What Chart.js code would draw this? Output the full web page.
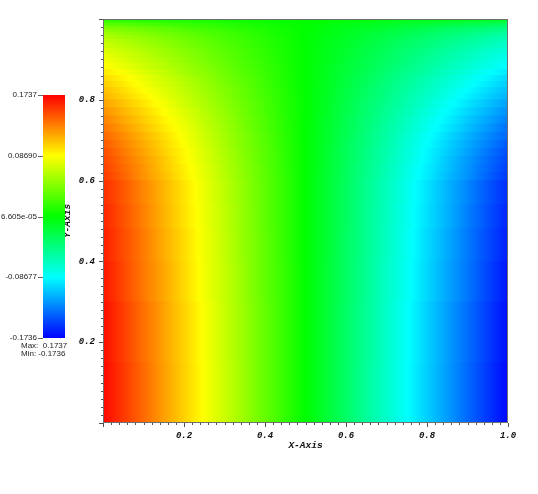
<!DOCTYPE html>
<html>
<head>
<meta charset="utf-8">
<script src="https://cdn.jsdelivr.net/npm/chart.js@4.4.0/dist/chart.umd.min.js"></script>
<style>
    html, body { margin: 0; padding: 0; background: #ffffff; }
    canvas { display: block; }
</style>
</head>
<body>
<canvas id="chart" width="538" height="494"></canvas>
<script>
// grid nodes along x, band edges along y (data units)
const xNodes = [0, 0.05, 0.1, 0.15, 0.2, 0.25, 0.3, 0.35, 0.4, 0.45, 0.5, 0.55, 0.6, 0.65, 0.7, 0.75, 0.8, 0.85, 0.9, 0.95, 1.0];
const yEdges = [0, 0.15, 0.3, 0.4, 0.48, 0.54, 0.6, 0.62, 0.64, 0.66, 0.68, 0.7, 0.72, 0.74, 0.76, 0.78, 0.8,
    0.815, 0.83, 0.845, 0.86, 0.875, 0.89, 0.9025, 0.915, 0.9275, 0.94, 0.95, 0.96, 0.9675, 0.975, 0.9825, 0.99, 0.995, 1.0];

// field values at the x nodes, one array per y band, bottom band first
const row01 = [0.172, 0.155, 0.138, 0.120, 0.103, 0.086, 0.069, 0.052, 0.034, 0.017, 0, -0.017, -0.034, -0.052, -0.069, -0.086, -0.103, -0.120, -0.138, -0.155, -0.172];
const row02 = [0.170, 0.153, 0.136, 0.119, 0.102, 0.085, 0.068, 0.051, 0.034, 0.017, 0, -0.017, -0.034, -0.051, -0.068, -0.085, -0.102, -0.119, -0.136, -0.153, -0.170];
const row03 = [0.167, 0.150, 0.133, 0.117, 0.100, 0.083, 0.067, 0.050, 0.033, 0.017, 0, -0.017, -0.033, -0.050, -0.067, -0.083, -0.100, -0.117, -0.133, -0.150, -0.167];
const row04 = [0.164, 0.148, 0.132, 0.115, 0.099, 0.082, 0.066, 0.049, 0.033, 0.016, 0, -0.016, -0.033, -0.049, -0.066, -0.082, -0.099, -0.115, -0.132, -0.148, -0.164];
const row05 = [0.162, 0.146, 0.130, 0.113, 0.097, 0.081, 0.065, 0.049, 0.032, 0.016, 0, -0.016, -0.032, -0.049, -0.065, -0.081, -0.097, -0.113, -0.130, -0.146, -0.162];
const row06 = [0.159, 0.144, 0.128, 0.112, 0.096, 0.080, 0.064, 0.048, 0.032, 0.016, 0, -0.016, -0.032, -0.048, -0.064, -0.080, -0.096, -0.112, -0.128, -0.144, -0.159];
const row07 = [0.155, 0.140, 0.124, 0.109, 0.093, 0.078, 0.062, 0.047, 0.031, 0.016, 0, -0.016, -0.031, -0.047, -0.062, -0.078, -0.093, -0.109, -0.124, -0.140, -0.155];
const row08 = [0.153, 0.138, 0.123, 0.107, 0.092, 0.077, 0.061, 0.046, 0.031, 0.015, 0, -0.015, -0.031, -0.046, -0.061, -0.077, -0.092, -0.107, -0.123, -0.138, -0.153];
const row09 = [0.151, 0.136, 0.121, 0.106, 0.090, 0.075, 0.060, 0.045, 0.030, 0.015, 0, -0.015, -0.030, -0.045, -0.060, -0.075, -0.090, -0.106, -0.121, -0.136, -0.151];
const row10 = [0.148, 0.133, 0.118, 0.103, 0.089, 0.074, 0.059, 0.044, 0.030, 0.015, 0, -0.015, -0.030, -0.044, -0.059, -0.074, -0.089, -0.103, -0.118, -0.133, -0.148];
const row11 = [0.144, 0.129, 0.115, 0.101, 0.086, 0.072, 0.057, 0.043, 0.029, 0.014, 0, -0.014, -0.029, -0.043, -0.057, -0.072, -0.086, -0.101, -0.115, -0.129, -0.144];
const row12 = [0.139, 0.126, 0.112, 0.098, 0.084, 0.070, 0.056, 0.042, 0.028, 0.014, 0, -0.014, -0.028, -0.042, -0.056, -0.070, -0.084, -0.098, -0.112, -0.126, -0.139];
const row13 = [0.135, 0.121, 0.108, 0.094, 0.081, 0.067, 0.054, 0.040, 0.027, 0.013, 0, -0.013, -0.027, -0.040, -0.054, -0.067, -0.081, -0.094, -0.108, -0.121, -0.135];
const row14 = [0.130, 0.117, 0.104, 0.091, 0.078, 0.065, 0.052, 0.039, 0.026, 0.013, 0, -0.013, -0.026, -0.039, -0.052, -0.065, -0.078, -0.091, -0.104, -0.117, -0.130];
const row15 = [0.125, 0.112, 0.100, 0.087, 0.075, 0.062, 0.050, 0.037, 0.025, 0.012, 0, -0.012, -0.025, -0.037, -0.050, -0.062, -0.075, -0.087, -0.100, -0.112, -0.125];
const row16 = [0.119, 0.107, 0.095, 0.083, 0.071, 0.059, 0.047, 0.036, 0.024, 0.012, 0, -0.012, -0.024, -0.036, -0.047, -0.059, -0.071, -0.083, -0.095, -0.107, -0.119];
const row17 = [0.113, 0.102, 0.091, 0.079, 0.068, 0.057, 0.045, 0.034, 0.023, 0.011, 0, -0.011, -0.023, -0.034, -0.045, -0.057, -0.068, -0.079, -0.091, -0.102, -0.113];
const row18 = [0.109, 0.098, 0.087, 0.076, 0.065, 0.054, 0.044, 0.033, 0.022, 0.011, 0, -0.011, -0.022, -0.033, -0.044, -0.054, -0.065, -0.076, -0.087, -0.098, -0.109];
const row19 = [0.104, 0.094, 0.083, 0.073, 0.063, 0.052, 0.042, 0.031, 0.021, 0.010, 0, -0.010, -0.021, -0.031, -0.042, -0.052, -0.063, -0.073, -0.083, -0.094, -0.104];
const row20 = [0.100, 0.090, 0.080, 0.070, 0.060, 0.050, 0.040, 0.030, 0.020, 0.010, 0, -0.010, -0.020, -0.030, -0.040, -0.050, -0.060, -0.070, -0.080, -0.090, -0.100];
const row21 = [0.094, 0.085, 0.075, 0.066, 0.056, 0.047, 0.038, 0.028, 0.019, 0.009, 0, -0.009, -0.019, -0.028, -0.038, -0.047, -0.056, -0.066, -0.075, -0.085, -0.094];
const row22 = [0.088, 0.079, 0.070, 0.062, 0.053, 0.044, 0.035, 0.026, 0.018, 0.009, 0, -0.009, -0.018, -0.026, -0.035, -0.044, -0.053, -0.062, -0.070, -0.079, -0.088];
const row23 = [0.084, 0.075, 0.067, 0.059, 0.050, 0.042, 0.033, 0.025, 0.017, 0.008, 0, -0.008, -0.017, -0.025, -0.033, -0.042, -0.050, -0.059, -0.067, -0.075, -0.084];
const row24 = [0.080, 0.072, 0.064, 0.056, 0.048, 0.040, 0.032, 0.024, 0.016, 0.008, 0, -0.008, -0.016, -0.024, -0.032, -0.040, -0.048, -0.056, -0.064, -0.072, -0.080];
const row25 = [0.075, 0.068, 0.060, 0.053, 0.045, 0.038, 0.030, 0.023, 0.015, 0.008, 0, -0.008, -0.015, -0.023, -0.030, -0.038, -0.045, -0.053, -0.060, -0.068, -0.075];
const row26 = [0.070, 0.063, 0.056, 0.049, 0.042, 0.035, 0.028, 0.021, 0.014, 0.007, 0, -0.007, -0.014, -0.021, -0.028, -0.035, -0.042, -0.049, -0.056, -0.063, -0.070];
const row27 = [0.065, 0.059, 0.052, 0.046, 0.039, 0.033, 0.026, 0.020, 0.013, 0.007, 0, -0.007, -0.013, -0.020, -0.026, -0.033, -0.039, -0.046, -0.052, -0.059, -0.065];
const row28 = [0.060, 0.054, 0.048, 0.042, 0.036, 0.030, 0.024, 0.018, 0.012, 0.006, 0, -0.006, -0.012, -0.018, -0.024, -0.030, -0.036, -0.042, -0.048, -0.054, -0.060];
const row29 = [0.054, 0.048, 0.043, 0.038, 0.032, 0.027, 0.022, 0.016, 0.011, 0.005, 0, -0.005, -0.011, -0.016, -0.022, -0.027, -0.032, -0.038, -0.043, -0.048, -0.054];
const row30 = [0.048, 0.043, 0.039, 0.034, 0.029, 0.024, 0.019, 0.014, 0.010, 0.005, 0, -0.005, -0.010, -0.014, -0.019, -0.024, -0.029, -0.034, -0.039, -0.043, -0.048];
const row31 = [0.041, 0.037, 0.033, 0.029, 0.024, 0.020, 0.016, 0.012, 0.008, 0.004, 0, -0.004, -0.008, -0.012, -0.016, -0.020, -0.024, -0.029, -0.033, -0.037, -0.041];
const row32 = [0.030, 0.027, 0.024, 0.021, 0.018, 0.015, 0.012, 0.009, 0.006, 0.003, 0, -0.003, -0.006, -0.009, -0.012, -0.015, -0.018, -0.021, -0.024, -0.027, -0.030];
const row33 = [0.019, 0.017, 0.015, 0.013, 0.011, 0.010, 0.008, 0.006, 0.004, 0.002, 0, -0.002, -0.004, -0.006, -0.008, -0.010, -0.011, -0.013, -0.015, -0.017, -0.019];
const row34 = [0.009, 0.008, 0.007, 0.006, 0.005, 0.004, 0.003, 0.003, 0.002, 0.001, 0, -0.001, -0.002, -0.003, -0.003, -0.004, -0.005, -0.006, -0.007, -0.008, -0.009];

const gridRows = [row01, row02, row03, row04, row05, row06, row07, row08, row09, row10,
    row11, row12, row13, row14, row15, row16, row17, row18, row19, row20,
    row21, row22, row23, row24, row25, row26, row27, row28, row29, row30,
    row31, row32, row33, row34];

const valueMin = -0.1736;
const valueMax = 0.1737;
const xTickLabels = ["0.2", "0.4", "0.6", "0.8", "1.0"];
const yTickLabels = ["0.2", "0.4", "0.6", "0.8"];
const legendTickLabels = ["0.1737", "0.08690", "6.605e-05", "-0.08677", "-0.1736"];
const legendMaxLabel = "Max:  0.1737";
const legendMinLabel = "Min: -0.1736";

// hot colour table: blue, cyan, green, yellow, red
const colorStops = [
    [0, 0, 0, 255],
    [0.25, 0, 255, 255],
    [0.5, 0, 255, 0],
    [0.75, 255, 255, 0],
    [1, 255, 0, 0],
];

function normalize(value) {
    const t = (value - valueMin) / (valueMax - valueMin);
    return Math.min(1, Math.max(0, t));
}

function colorAt(t) {
    for (let i = 1; i < colorStops.length; i++) {
        const a = colorStops[i - 1];
        const b = colorStops[i];
        if (t <= b[0]) {
            const f = (t - a[0]) / (b[0] - a[0]);
            const r = Math.round(a[1] + (b[1] - a[1]) * f);
            const g = Math.round(a[2] + (b[2] - a[2]) * f);
            const bl = Math.round(a[3] + (b[3] - a[3]) * f);
            return `rgb(${r},${g},${bl})`;
        }
    }
    return "rgb(255,0,0)";
}

// smooth shading of one cell between the values at its two x nodes
function cellFill(context, row) {
    const i = context.dataIndex;
    if (context.type !== "data" || i === undefined) {
        return colorAt(0.5);
    }
    const t0 = normalize(row[i]);
    const t1 = normalize(row[i + 1]);
    const xs = context.chart.scales.x;
    const p0 = xs ? xs.getPixelForValue(xNodes[i]) : NaN;
    const p1 = xs ? xs.getPixelForValue(xNodes[i + 1]) : NaN;
    if (!Number.isFinite(p0) || !Number.isFinite(p1) || p0 === p1) {
        return colorAt((t0 + t1) / 2);
    }
    const grad = context.chart.ctx.createLinearGradient(p0, 0, p1, 0);
    const stops = [[0, t0], [1, t1]];
    colorStops.forEach((s) => {
        const b = s[0];
        if (b > Math.min(t0, t1) && b < Math.max(t0, t1)) {
            stops.push([(b - t0) / (t1 - t0), b]);
        }
    });
    stops.sort((a, b) => a[0] - b[0]);
    stops.forEach((s) => {
        grad.addColorStop(s[0], colorAt(s[1]));
    });
    return grad;
}

function tickLabel(value, labels) {
    const text = value.toFixed(1);
    return labels.includes(text) ? text : "";
}

const tickFont = { family: '"Liberation Mono", "DejaVu Sans Mono", monospace', size: 9, weight: "bold", style: "italic" };
const titleFont = { family: '"Liberation Mono", "DejaVu Sans Mono", monospace', size: 9.5, weight: "bold", style: "italic" };

const datasets = gridRows.map((row, r) => {
    return {
        data: row.slice(1).map((v, i) => {
            return { x: (xNodes[i] + xNodes[i + 1]) / 2, y: [yEdges[r], yEdges[r + 1]] };
        }),
        backgroundColor: (context) => cellFill(context, row),
    };
});

// frame, minor/major ticks and the colour legend
const decorations = {
    id: "decorations",
    afterDraw(chart) {
        const ctx = chart.ctx;
        const area = chart.chartArea;
        const xs = chart.scales.x;
        const ys = chart.scales.y;

        ctx.save();
        ctx.strokeStyle = "#707070";
        ctx.lineWidth = 1;
        ctx.strokeRect(area.left + 0.5, area.top + 0.5, area.right - area.left - 1, area.bottom - area.top - 1);

        ctx.strokeStyle = "#505050";
        ctx.beginPath();
        for (let i = 0; i <= 50; i++) {
            const len = i % 10 === 0 ? 4 : 2;
            const px = Math.round(xs.getPixelForValue(i / 50)) + 0.5;
            ctx.moveTo(px, area.bottom);
            ctx.lineTo(px, area.bottom + len);
            const py = Math.round(ys.getPixelForValue(i / 50)) + 0.5;
            ctx.moveTo(area.left, py);
            ctx.lineTo(area.left - len, py);
        }
        ctx.stroke();

        // colour legend
        const barLeft = 43, barRight = 65, barTop = 95, barBottom = 338;
        const grad = ctx.createLinearGradient(0, barBottom, 0, barTop);
        colorStops.forEach((s) => {
            grad.addColorStop(s[0], `rgb(${s[1]},${s[2]},${s[3]})`);
        });
        ctx.fillStyle = grad;
        ctx.fillRect(barLeft, barTop, barRight - barLeft, barBottom - barTop);

        ctx.font = '8px "Liberation Sans", Arial, sans-serif';
        ctx.fillStyle = "#222222";
        ctx.strokeStyle = "#666666";
        ctx.textAlign = "right";
        ctx.textBaseline = "middle";
        legendTickLabels.forEach((label, i) => {
            const y = barTop + (barBottom - barTop) * i / (legendTickLabels.length - 1);
            ctx.beginPath();
            ctx.moveTo(38, Math.round(y) + 0.5);
            ctx.lineTo(barLeft, Math.round(y) + 0.5);
            ctx.stroke();
            ctx.fillText(label, 37, y);
        });
        ctx.textAlign = "left";
        ctx.fillText(legendMaxLabel, 21, 346);
        ctx.fillText(legendMinLabel, 21, 354);
        ctx.restore();
    },
};

new Chart(document.getElementById("chart"), {
    type: "bar",
    data: { datasets: datasets },
    options: {
        responsive: false,
        animation: false,
        events: [],
        layout: { padding: { left: 0, right: 30, top: 19, bottom: 0 } },
        plugins: {
            legend: { display: false },
            tooltip: { enabled: false },
        },
        datasets: {
            bar: {
                grouped: false,
                barPercentage: 1,
                categoryPercentage: 1,
                borderWidth: 0,
                inflateAmount: 0.5,
            },
        },
        scales: {
            x: {
                type: "linear",
                min: 0,
                max: 1,
                offset: false,
                afterFit: (scale) => { scale.height = 71; },
                border: { display: false },
                grid: { display: true, drawOnChartArea: false, tickLength: 4, tickColor: "rgba(0,0,0,0)" },
                ticks: {
                    stepSize: 0.2,
                    autoSkip: false,
                    maxRotation: 0,
                    padding: 3,
                    color: "#111111",
                    font: tickFont,
                    callback: (v) => tickLabel(v, xTickLabels),
                },
                title: { display: true, text: "X-Axis", color: "#111111", font: titleFont, padding: { top: 0, bottom: 43 } },
            },
            y: {
                type: "linear",
                min: 0,
                max: 1,
                afterFit: (scale) => { scale.width = 103; },
                border: { display: false },
                grid: { display: true, drawOnChartArea: false, tickLength: 4, tickColor: "rgba(0,0,0,0)" },
                ticks: {
                    stepSize: 0.2,
                    autoSkip: false,
                    padding: 4,
                    color: "#111111",
                    font: tickFont,
                    callback: (v) => tickLabel(v, yTickLabels),
                },
                title: { display: true, text: "Y-Axis", color: "#111111", font: titleFont, padding: { top: 62, bottom: 0 } },
            },
        },
    },
    plugins: [decorations],
});
</script>
</body>
</html>
